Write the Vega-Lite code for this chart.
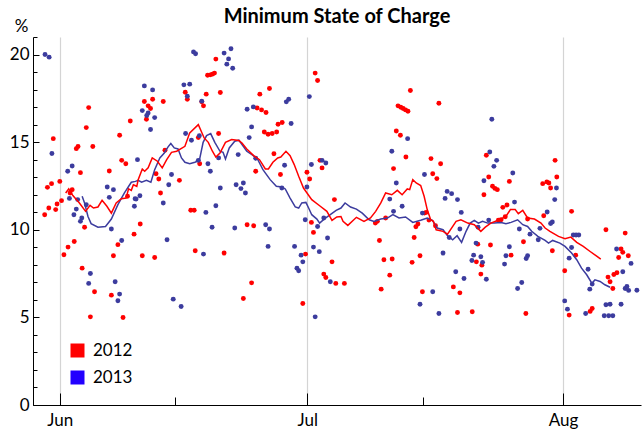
{
  "$schema": "https://vega.github.io/schema/vega-lite/v6.json",
  "width": 608,
  "height": 368,
  "autosize": {"type": "none"},
  "padding": {"left": 33, "top": 37, "right": 3, "bottom": 26},
  "background": "white",
  "title": {"text": "Minimum State of Charge", "font": "Lato", "fontSize": 20, "fontWeight": "bold", "color": "black", "anchor": "middle", "offset": 10, "dy": 20},
  "config": {
    "view": {"stroke": null},
    "axis": {"labelFont": "Lato", "labelFontSize": 17, "labelColor": "black", "domainColor": "black", "tickColor": "black", "domainWidth": 1, "tickWidth": 1}
  },
  "resolve": {"axis": {"x": "independent", "y": "independent"}},
  "layer": [
    {
      "data": {
        "format": {"parse": {"t": "utc:'%m-%d %H'"}},
        "values": [
          {"t": "05-30 04", "year": "2012", "soc": 10.86},
          {"t": "05-30 16", "year": "2012", "soc": 11.24},
          {"t": "05-30 12", "year": "2012", "soc": 12.42},
          {"t": "05-31 00", "year": "2012", "soc": 12.63},
          {"t": "05-31 05", "year": "2012", "soc": 15.2},
          {"t": "05-31 12", "year": "2012", "soc": 11.15},
          {"t": "05-31 16", "year": "2012", "soc": 11.47},
          {"t": "06-01 00", "year": "2012", "soc": 12.76},
          {"t": "06-01 05", "year": "2012", "soc": 11.66},
          {"t": "06-01 12", "year": "2012", "soc": 8.57},
          {"t": "06-02 00", "year": "2012", "soc": 9.01},
          {"t": "06-02 12", "year": "2012", "soc": 12.29},
          {"t": "06-02 06", "year": "2012", "soc": 12.1},
          {"t": "06-02 18", "year": "2012", "soc": 9.33},
          {"t": "06-03 00", "year": "2012", "soc": 14.63},
          {"t": "06-03 05", "year": "2012", "soc": 14.75},
          {"t": "06-03 12", "year": "2012", "soc": 13.26},
          {"t": "06-03 17", "year": "2012", "soc": 7.81},
          {"t": "06-04 00", "year": "2012", "soc": 10.14},
          {"t": "06-04 05", "year": "2012", "soc": 15.83},
          {"t": "06-04 12", "year": "2012", "soc": 16.97},
          {"t": "06-04 17", "year": "2012", "soc": 5.03},
          {"t": "06-05 00", "year": "2012", "soc": 14.75},
          {"t": "06-05 05", "year": "2012", "soc": 6.46},
          {"t": "06-07 00", "year": "2012", "soc": 13.35},
          {"t": "06-07 06", "year": "2012", "soc": 6.27},
          {"t": "06-07 12", "year": "2012", "soc": 8.52},
          {"t": "06-08 01", "year": "2012", "soc": 9.15},
          {"t": "06-08 06", "year": "2012", "soc": 15.39},
          {"t": "06-08 12", "year": "2012", "soc": 13.96},
          {"t": "06-09 00", "year": "2012", "soc": 13.77},
          {"t": "06-09 13", "year": "2012", "soc": 16.21},
          {"t": "06-08 16", "year": "2012", "soc": 4.99},
          {"t": "06-09 05", "year": "2012", "soc": 11.91},
          {"t": "06-10 00", "year": "2012", "soc": 9.75},
          {"t": "06-19 22", "year": "2012", "soc": 19.74},
          {"t": "06-18 22", "year": "2012", "soc": 18.82},
          {"t": "06-19 06", "year": "2012", "soc": 18.84},
          {"t": "06-19 12", "year": "2012", "soc": 18.88},
          {"t": "06-19 18", "year": "2012", "soc": 18.94},
          {"t": "06-16 05", "year": "2012", "soc": 17.85},
          {"t": "06-16 11", "year": "2012", "soc": 17.45},
          {"t": "06-18 18", "year": "2012", "soc": 17.74},
          {"t": "06-20 11", "year": "2012", "soc": 17.83},
          {"t": "06-18 05", "year": "2012", "soc": 17.3},
          {"t": "06-18 10", "year": "2012", "soc": 17.07},
          {"t": "06-11 06", "year": "2012", "soc": 17.32},
          {"t": "06-12 06", "year": "2012", "soc": 17.45},
          {"t": "06-13 13", "year": "2012", "soc": 17.32},
          {"t": "06-11 17", "year": "2012", "soc": 17.07},
          {"t": "06-12 00", "year": "2012", "soc": 16.92},
          {"t": "06-11 12", "year": "2012", "soc": 16.31},
          {"t": "06-17 19", "year": "2012", "soc": 15.26},
          {"t": "06-20 06", "year": "2012", "soc": 15.49},
          {"t": "06-13 18", "year": "2012", "soc": 14.54},
          {"t": "06-17 23", "year": "2012", "soc": 13.77},
          {"t": "06-12 16", "year": "2012", "soc": 13.2},
          {"t": "06-13 00", "year": "2012", "soc": 12.9},
          {"t": "06-15 12", "year": "2012", "soc": 12.82},
          {"t": "06-13 05", "year": "2012", "soc": 12.1},
          {"t": "06-16 21", "year": "2012", "soc": 11.11},
          {"t": "06-17 07", "year": "2012", "soc": 11.11},
          {"t": "06-10 18", "year": "2012", "soc": 10.33},
          {"t": "06-11 00", "year": "2012", "soc": 8.52},
          {"t": "06-12 12", "year": "2012", "soc": 8.42},
          {"t": "06-17 10", "year": "2012", "soc": 8.8},
          {"t": "06-20 22", "year": "2012", "soc": 8.67},
          {"t": "07-01 23", "year": "2012", "soc": 18.94},
          {"t": "07-02 06", "year": "2012", "soc": 18.52},
          {"t": "06-26 10", "year": "2012", "soc": 18.06},
          {"t": "06-25 06", "year": "2012", "soc": 17.74},
          {"t": "06-24 22", "year": "2012", "soc": 16.95},
          {"t": "06-25 11", "year": "2012", "soc": 16.84},
          {"t": "06-26 00", "year": "2012", "soc": 16.69},
          {"t": "06-27 11", "year": "2012", "soc": 16.02},
          {"t": "06-27 23", "year": "2012", "soc": 16.12},
          {"t": "06-25 19", "year": "2012", "soc": 15.58},
          {"t": "06-26 06", "year": "2012", "soc": 15.45},
          {"t": "06-26 18", "year": "2012", "soc": 15.49},
          {"t": "06-27 07", "year": "2012", "soc": 15.58},
          {"t": "06-26 23", "year": "2012", "soc": 14.34},
          {"t": "06-24 18", "year": "2012", "soc": 13.34},
          {"t": "06-27 18", "year": "2012", "soc": 13.15},
          {"t": "06-30 23", "year": "2012", "soc": 13.28},
          {"t": "07-01 07", "year": "2012", "soc": 12.9},
          {"t": "07-02 13", "year": "2012", "soc": 13.96},
          {"t": "07-02 19", "year": "2012", "soc": 13.53},
          {"t": "07-04 07", "year": "2012", "soc": 11.72},
          {"t": "07-01 12", "year": "2012", "soc": 10.42},
          {"t": "07-01 18", "year": "2012", "soc": 9.85},
          {"t": "06-23 17", "year": "2012", "soc": 10.29},
          {"t": "06-24 12", "year": "2012", "soc": 10.23},
          {"t": "06-30 19", "year": "2012", "soc": 8.61},
          {"t": "07-04 00", "year": "2012", "soc": 8.17},
          {"t": "07-03 00", "year": "2012", "soc": 7.47},
          {"t": "07-03 06", "year": "2012", "soc": 7.28},
          {"t": "07-04 11", "year": "2012", "soc": 6.94},
          {"t": "06-24 06", "year": "2012", "soc": 6.97},
          {"t": "06-23 06", "year": "2012", "soc": 6.08},
          {"t": "06-30 11", "year": "2012", "soc": 5.79},
          {"t": "07-13 12", "year": "2012", "soc": 17.95},
          {"t": "07-16 23", "year": "2012", "soc": 17.22},
          {"t": "07-12 00", "year": "2012", "soc": 17.07},
          {"t": "07-12 08", "year": "2012", "soc": 16.99},
          {"t": "07-12 15", "year": "2012", "soc": 16.92},
          {"t": "07-12 22", "year": "2012", "soc": 16.84},
          {"t": "07-13 05", "year": "2012", "soc": 16.76},
          {"t": "07-11 19", "year": "2012", "soc": 15.64},
          {"t": "07-12 07", "year": "2012", "soc": 15.39},
          {"t": "07-12 23", "year": "2012", "soc": 14.15},
          {"t": "07-16 00", "year": "2012", "soc": 14.06},
          {"t": "07-17 04", "year": "2012", "soc": 13.77},
          {"t": "07-16 05", "year": "2012", "soc": 13.2},
          {"t": "07-16 17", "year": "2012", "soc": 12.92},
          {"t": "07-11 11", "year": "2012", "soc": 13.49},
          {"t": "07-15 10", "year": "2012", "soc": 10.99},
          {"t": "07-15 05", "year": "2012", "soc": 10.95},
          {"t": "07-15 18", "year": "2012", "soc": 10.55},
          {"t": "07-16 13", "year": "2012", "soc": 10.23},
          {"t": "07-14 10", "year": "2012", "soc": 10.33},
          {"t": "07-14 04", "year": "2012", "soc": 10.17},
          {"t": "07-13 23", "year": "2012", "soc": 9.56},
          {"t": "07-10 12", "year": "2012", "soc": 10.67},
          {"t": "07-09 12", "year": "2012", "soc": 10.48},
          {"t": "07-09 06", "year": "2012", "soc": 10.38},
          {"t": "07-09 18", "year": "2012", "soc": 9.39},
          {"t": "07-10 07", "year": "2012", "soc": 8.29},
          {"t": "07-11 07", "year": "2012", "soc": 8.33},
          {"t": "07-11 00", "year": "2012", "soc": 7.41},
          {"t": "07-09 23", "year": "2012", "soc": 6.61},
          {"t": "07-13 17", "year": "2012", "soc": 8.14},
          {"t": "07-14 16", "year": "2012", "soc": 8.52},
          {"t": "07-14 23", "year": "2012", "soc": 6.46},
          {"t": "07-05 12", "year": "2012", "soc": 6.94},
          {"t": "07-22 17", "year": "2012", "soc": 14.25},
          {"t": "07-23 00", "year": "2012", "soc": 13.01},
          {"t": "07-23 11", "year": "2012", "soc": 12.48},
          {"t": "07-23 18", "year": "2012", "soc": 12.36},
          {"t": "07-24 01", "year": "2012", "soc": 12.29},
          {"t": "07-25 12", "year": "2012", "soc": 12.76},
          {"t": "07-22 10", "year": "2012", "soc": 12.0},
          {"t": "07-29 13", "year": "2012", "soc": 12.63},
          {"t": "07-24 17", "year": "2012", "soc": 11.28},
          {"t": "07-25 05", "year": "2012", "soc": 11.41},
          {"t": "07-24 04", "year": "2012", "soc": 10.54},
          {"t": "07-24 12", "year": "2012", "soc": 10.57},
          {"t": "07-25 00", "year": "2012", "soc": 10.74},
          {"t": "07-27 17", "year": "2012", "soc": 10.61},
          {"t": "07-29 16", "year": "2012", "soc": 10.8},
          {"t": "07-21 16", "year": "2012", "soc": 9.18},
          {"t": "07-23 05", "year": "2012", "soc": 9.13},
          {"t": "07-27 05", "year": "2012", "soc": 9.32},
          {"t": "07-21 12", "year": "2012", "soc": 8.17},
          {"t": "07-22 04", "year": "2012", "soc": 7.98},
          {"t": "07-25 17", "year": "2012", "soc": 8.55},
          {"t": "07-22 01", "year": "2012", "soc": 7.47},
          {"t": "07-18 17", "year": "2012", "soc": 6.74},
          {"t": "07-19 12", "year": "2012", "soc": 6.4},
          {"t": "07-19 05", "year": "2012", "soc": 5.28},
          {"t": "07-21 00", "year": "2012", "soc": 5.32},
          {"t": "07-27 12", "year": "2012", "soc": 5.22},
          {"t": "07-31 01", "year": "2012", "soc": 13.96},
          {"t": "07-31 06", "year": "2012", "soc": 13.01},
          {"t": "07-30 01", "year": "2012", "soc": 12.73},
          {"t": "07-30 07", "year": "2012", "soc": 12.67},
          {"t": "07-30 12", "year": "2012", "soc": 12.38},
          {"t": "08-02 01", "year": "2012", "soc": 11.05},
          {"t": "07-30 17", "year": "2012", "soc": 8.8},
          {"t": "08-02 13", "year": "2012", "soc": 8.55},
          {"t": "08-01 05", "year": "2012", "soc": 7.66},
          {"t": "08-01 18", "year": "2012", "soc": 5.13},
          {"t": "08-04 07", "year": "2012", "soc": 5.34},
          {"t": "08-04 13", "year": "2012", "soc": 5.51},
          {"t": "08-06 05", "year": "2012", "soc": 10.0},
          {"t": "08-08 13", "year": "2012", "soc": 9.81},
          {"t": "08-08 01", "year": "2012", "soc": 8.9},
          {"t": "08-08 06", "year": "2012", "soc": 8.71},
          {"t": "08-07 18", "year": "2012", "soc": 8.42},
          {"t": "08-08 22", "year": "2012", "soc": 8.52},
          {"t": "08-06 11", "year": "2012", "soc": 7.3},
          {"t": "08-06 17", "year": "2012", "soc": 7.03},
          {"t": "08-07 04", "year": "2012", "soc": 7.45},
          {"t": "08-07 13", "year": "2012", "soc": 7.55},
          {"t": "08-07 01", "year": "2012", "soc": 6.65},
          {"t": "05-30 05", "year": "2013", "soc": 20.0},
          {"t": "05-30 17", "year": "2013", "soc": 19.85},
          {"t": "05-31 01", "year": "2013", "soc": 14.35},
          {"t": "06-01 23", "year": "2013", "soc": 13.34},
          {"t": "06-02 12", "year": "2013", "soc": 13.64},
          {"t": "06-02 04", "year": "2013", "soc": 11.79},
          {"t": "06-03 04", "year": "2013", "soc": 11.72},
          {"t": "06-03 00", "year": "2013", "soc": 11.18},
          {"t": "06-02 17", "year": "2013", "soc": 10.86},
          {"t": "06-03 16", "year": "2013", "soc": 10.67},
          {"t": "06-03 12", "year": "2013", "soc": 10.48},
          {"t": "06-04 05", "year": "2013", "soc": 11.43},
          {"t": "06-04 17", "year": "2013", "soc": 7.5},
          {"t": "06-04 12", "year": "2013", "soc": 6.94},
          {"t": "06-06 18", "year": "2013", "soc": 12.44},
          {"t": "06-07 12", "year": "2013", "soc": 12.29},
          {"t": "06-07 00", "year": "2013", "soc": 11.85},
          {"t": "06-07 06", "year": "2013", "soc": 10.04},
          {"t": "06-08 12", "year": "2013", "soc": 9.39},
          {"t": "06-07 17", "year": "2013", "soc": 7.03},
          {"t": "06-08 06", "year": "2013", "soc": 6.33},
          {"t": "06-08 01", "year": "2013", "soc": 5.95},
          {"t": "06-10 01", "year": "2013", "soc": 11.34},
          {"t": "06-10 03", "year": "2013", "soc": 11.77},
          {"t": "06-10 10", "year": "2013", "soc": 14.0},
          {"t": "06-17 05", "year": "2013", "soc": 20.15},
          {"t": "06-17 11", "year": "2013", "soc": 20.04},
          {"t": "06-20 22", "year": "2013", "soc": 20.08},
          {"t": "06-21 18", "year": "2013", "soc": 20.33},
          {"t": "06-21 11", "year": "2013", "soc": 19.75},
          {"t": "06-21 06", "year": "2013", "soc": 19.45},
          {"t": "06-21 23", "year": "2013", "soc": 19.22},
          {"t": "06-11 06", "year": "2013", "soc": 18.21},
          {"t": "06-12 06", "year": "2013", "soc": 17.98},
          {"t": "06-16 01", "year": "2013", "soc": 18.27},
          {"t": "06-16 18", "year": "2013", "soc": 18.31},
          {"t": "06-16 11", "year": "2013", "soc": 17.62},
          {"t": "06-11 00", "year": "2013", "soc": 16.8},
          {"t": "06-11 17", "year": "2013", "soc": 16.67},
          {"t": "06-11 13", "year": "2013", "soc": 16.52},
          {"t": "06-12 12", "year": "2013", "soc": 16.4},
          {"t": "06-12 00", "year": "2013", "soc": 15.72},
          {"t": "06-18 05", "year": "2013", "soc": 17.34},
          {"t": "06-16 06", "year": "2013", "soc": 15.49},
          {"t": "06-16 23", "year": "2013", "soc": 15.11},
          {"t": "06-17 22", "year": "2013", "soc": 15.37},
          {"t": "06-17 19", "year": "2013", "soc": 13.96},
          {"t": "06-18 23", "year": "2013", "soc": 13.77},
          {"t": "06-19 06", "year": "2013", "soc": 13.34},
          {"t": "06-14 13", "year": "2013", "soc": 13.15},
          {"t": "06-14 05", "year": "2013", "soc": 12.57},
          {"t": "06-13 13", "year": "2013", "soc": 11.53},
          {"t": "06-10 17", "year": "2013", "soc": 11.94},
          {"t": "06-10 06", "year": "2013", "soc": 11.75},
          {"t": "06-20 11", "year": "2013", "soc": 12.38},
          {"t": "06-19 22", "year": "2013", "soc": 11.37},
          {"t": "06-18 17", "year": "2013", "soc": 10.99},
          {"t": "06-22 09", "year": "2013", "soc": 12.57},
          {"t": "06-22 15", "year": "2013", "soc": 14.29},
          {"t": "06-19 11", "year": "2013", "soc": 10.14},
          {"t": "06-22 05", "year": "2013", "soc": 10.1},
          {"t": "06-14 00", "year": "2013", "soc": 9.43},
          {"t": "06-18 10", "year": "2013", "soc": 8.61},
          {"t": "06-14 18", "year": "2013", "soc": 6.04},
          {"t": "06-15 17", "year": "2013", "soc": 5.62},
          {"t": "06-20 06", "year": "2013", "soc": 14.1},
          {"t": "07-01 06", "year": "2013", "soc": 17.6},
          {"t": "06-28 11", "year": "2013", "soc": 17.3},
          {"t": "06-28 18", "year": "2013", "soc": 17.45},
          {"t": "06-23 17", "year": "2013", "soc": 16.88},
          {"t": "06-24 11", "year": "2013", "soc": 17.01},
          {"t": "06-24 06", "year": "2013", "soc": 15.87},
          {"t": "06-23 23", "year": "2013", "soc": 15.26},
          {"t": "06-29 01", "year": "2013", "soc": 16.06},
          {"t": "06-24 18", "year": "2013", "soc": 14.08},
          {"t": "06-28 06", "year": "2013", "soc": 13.68},
          {"t": "07-01 12", "year": "2013", "soc": 13.72},
          {"t": "07-02 19", "year": "2013", "soc": 13.96},
          {"t": "07-03 06", "year": "2013", "soc": 13.81},
          {"t": "06-23 06", "year": "2013", "soc": 12.67},
          {"t": "06-22 23", "year": "2013", "soc": 12.35},
          {"t": "06-23 12", "year": "2013", "soc": 12.1},
          {"t": "06-27 22", "year": "2013", "soc": 12.38},
          {"t": "06-30 23", "year": "2013", "soc": 12.44},
          {"t": "06-30 18", "year": "2013", "soc": 10.57},
          {"t": "07-02 06", "year": "2013", "soc": 10.19},
          {"t": "07-03 00", "year": "2013", "soc": 10.67},
          {"t": "07-03 11", "year": "2013", "soc": 9.53},
          {"t": "06-25 23", "year": "2013", "soc": 10.29},
          {"t": "06-26 10", "year": "2013", "soc": 10.04},
          {"t": "06-26 06", "year": "2013", "soc": 9.05},
          {"t": "06-29 11", "year": "2013", "soc": 9.05},
          {"t": "06-30 06", "year": "2013", "soc": 8.55},
          {"t": "06-30 11", "year": "2013", "soc": 8.17},
          {"t": "07-01 18", "year": "2013", "soc": 9.01},
          {"t": "07-02 11", "year": "2013", "soc": 8.75},
          {"t": "06-29 18", "year": "2013", "soc": 7.81},
          {"t": "06-29 23", "year": "2013", "soc": 7.66},
          {"t": "07-03 19", "year": "2013", "soc": 7.03},
          {"t": "07-01 23", "year": "2013", "soc": 5.03},
          {"t": "07-13 04", "year": "2013", "soc": 15.2},
          {"t": "07-11 06", "year": "2013", "soc": 14.48},
          {"t": "07-11 19", "year": "2013", "soc": 12.67},
          {"t": "07-11 00", "year": "2013", "soc": 11.75},
          {"t": "07-15 05", "year": "2013", "soc": 13.15},
          {"t": "07-11 11", "year": "2013", "soc": 11.05},
          {"t": "07-12 12", "year": "2013", "soc": 11.34},
          {"t": "07-14 23", "year": "2013", "soc": 10.95},
          {"t": "07-17 11", "year": "2013", "soc": 8.67},
          {"t": "07-16 05", "year": "2013", "soc": 6.46},
          {"t": "07-14 16", "year": "2013", "soc": 5.75},
          {"t": "07-16 23", "year": "2013", "soc": 5.22},
          {"t": "07-23 09", "year": "2013", "soc": 16.31},
          {"t": "07-23 03", "year": "2013", "soc": 14.44},
          {"t": "07-23 23", "year": "2013", "soc": 13.96},
          {"t": "07-23 15", "year": "2013", "soc": 13.62},
          {"t": "07-22 10", "year": "2013", "soc": 12.8},
          {"t": "07-25 22", "year": "2013", "soc": 13.24},
          {"t": "07-17 23", "year": "2013", "soc": 12.19},
          {"t": "07-18 12", "year": "2013", "soc": 12.06},
          {"t": "07-17 17", "year": "2013", "soc": 11.79},
          {"t": "07-19 05", "year": "2013", "soc": 11.72},
          {"t": "07-19 16", "year": "2013", "soc": 10.99},
          {"t": "07-26 03", "year": "2013", "soc": 11.58},
          {"t": "07-23 00", "year": "2013", "soc": 10.55},
          {"t": "07-21 17", "year": "2013", "soc": 10.14},
          {"t": "07-19 12", "year": "2013", "soc": 10.04},
          {"t": "07-18 05", "year": "2013", "soc": 9.56},
          {"t": "07-26 17", "year": "2013", "soc": 10.04},
          {"t": "07-28 00", "year": "2013", "soc": 9.75},
          {"t": "07-29 00", "year": "2013", "soc": 9.43},
          {"t": "07-29 05", "year": "2013", "soc": 10.08},
          {"t": "07-21 11", "year": "2013", "soc": 9.24},
          {"t": "07-25 12", "year": "2013", "soc": 9.03},
          {"t": "07-21 04", "year": "2013", "soc": 8.55},
          {"t": "07-22 01", "year": "2013", "soc": 8.46},
          {"t": "07-22 06", "year": "2013", "soc": 8.14},
          {"t": "07-20 23", "year": "2013", "soc": 8.25},
          {"t": "07-25 02", "year": "2013", "soc": 8.52},
          {"t": "07-24 22", "year": "2013", "soc": 8.04},
          {"t": "07-27 17", "year": "2013", "soc": 8.52},
          {"t": "07-27 13", "year": "2013", "soc": 8.36},
          {"t": "07-19 00", "year": "2013", "soc": 7.6},
          {"t": "07-20 00", "year": "2013", "soc": 7.22},
          {"t": "07-22 17", "year": "2013", "soc": 7.18},
          {"t": "07-27 00", "year": "2013", "soc": 6.99},
          {"t": "07-26 12", "year": "2013", "soc": 6.65},
          {"t": "07-31 05", "year": "2013", "soc": 12.38},
          {"t": "07-31 00", "year": "2013", "soc": 11.72},
          {"t": "07-30 02", "year": "2013", "soc": 11.01},
          {"t": "07-30 17", "year": "2013", "soc": 10.44},
          {"t": "07-30 12", "year": "2013", "soc": 10.36},
          {"t": "08-02 06", "year": "2013", "soc": 9.7},
          {"t": "08-02 14", "year": "2013", "soc": 9.7},
          {"t": "08-02 22", "year": "2013", "soc": 9.7},
          {"t": "08-02 01", "year": "2013", "soc": 8.99},
          {"t": "08-01 18", "year": "2013", "soc": 8.38},
          {"t": "08-04 01", "year": "2013", "soc": 7.75},
          {"t": "08-04 13", "year": "2013", "soc": 6.9},
          {"t": "08-04 06", "year": "2013", "soc": 6.61},
          {"t": "08-07 12", "year": "2013", "soc": 8.9},
          {"t": "08-08 06", "year": "2013", "soc": 7.6},
          {"t": "08-09 06", "year": "2013", "soc": 8.08},
          {"t": "08-08 13", "year": "2013", "soc": 6.65},
          {"t": "08-08 18", "year": "2013", "soc": 6.76},
          {"t": "08-08 23", "year": "2013", "soc": 6.54},
          {"t": "08-09 23", "year": "2013", "soc": 6.55},
          {"t": "08-01 05", "year": "2013", "soc": 5.94},
          {"t": "08-01 13", "year": "2013", "soc": 5.47},
          {"t": "08-03 18", "year": "2013", "soc": 5.22},
          {"t": "08-06 05", "year": "2013", "soc": 5.72},
          {"t": "08-06 17", "year": "2013", "soc": 5.75},
          {"t": "08-06 00", "year": "2013", "soc": 5.09},
          {"t": "08-06 13", "year": "2013", "soc": 5.09},
          {"t": "08-07 01", "year": "2013", "soc": 5.09},
          {"t": "08-08 01", "year": "2013", "soc": 5.75}
        ]
      },
      "mark": {"type": "circle", "size": 24, "opacity": 1},
      "encoding": {
        "x": {
          "field": "t", "type": "temporal",
          "scale": {"type": "utc", "domain": [{"year": 1900, "month": 5, "date": 28, "hours": 18, "utc": true}, {"year": 1900, "month": 8, "date": 10, "hours": 11, "utc": true}]},
          "axis": {"title": null, "orient": "bottom", "values": [{"year": 1900, "month": 6, "date": 1, "utc": true}, {"year": 1900, "month": 7, "date": 1, "utc": true}, {"year": 1900, "month": 8, "date": 1, "utc": true}], "format": "%b", "grid": true, "gridColor": "#d4d4d4", "gridWidth": 1.2, "tickSize": -12, "labelPadding": 19}
        },
        "y": {
          "field": "soc", "type": "quantitative",
          "scale": {"domain": [0, 21], "nice": false, "zero": false},
          "axis": {"title": "%", "orient": "left", "values": [0, 5, 10, 15, 20], "grid": false, "tickSize": -6, "labelPadding": 10, "titleAngle": 0, "titleX": -12, "titleY": -11, "titleAlign": "center", "titleBaseline": "middle", "titleFont": "Lato", "titleFontSize": 17, "titleFontWeight": "normal", "titleColor": "black"}
        },
        "fill": {
          "field": "year", "type": "nominal",
          "scale": {"domain": ["2013", "2012"], "range": ["#3c3c9e", "#ff0000"]},
          "legend": null
        }
      }
    },
    {
      "data": {
        "format": {"parse": {"t": "utc:'%m-%d %H'"}},
        "values": [
          {"t": "06-03 17", "year": "2013", "soc": 11.91},
          {"t": "06-04 00", "year": "2013", "soc": 11.53},
          {"t": "06-04 10", "year": "2013", "soc": 10.76},
          {"t": "06-04 19", "year": "2013", "soc": 10.35},
          {"t": "06-05 15", "year": "2013", "soc": 10.15},
          {"t": "06-06 13", "year": "2013", "soc": 10.19},
          {"t": "06-07 06", "year": "2013", "soc": 10.61},
          {"t": "06-08 01", "year": "2013", "soc": 11.43},
          {"t": "06-08 20", "year": "2013", "soc": 12.1},
          {"t": "06-09 16", "year": "2013", "soc": 12.71},
          {"t": "06-10 04", "year": "2013", "soc": 12.76},
          {"t": "06-10 12", "year": "2013", "soc": 12.82},
          {"t": "06-10 22", "year": "2013", "soc": 12.71},
          {"t": "06-11 12", "year": "2013", "soc": 12.82},
          {"t": "06-12 01", "year": "2013", "soc": 12.71},
          {"t": "06-12 12", "year": "2013", "soc": 13.43},
          {"t": "06-13 03", "year": "2013", "soc": 14.1},
          {"t": "06-13 16", "year": "2013", "soc": 14.38},
          {"t": "06-14 03", "year": "2013", "soc": 14.73},
          {"t": "06-14 11", "year": "2013", "soc": 14.92},
          {"t": "06-14 21", "year": "2013", "soc": 14.67},
          {"t": "06-15 08", "year": "2013", "soc": 14.61},
          {"t": "06-15 18", "year": "2013", "soc": 14.1},
          {"t": "06-16 04", "year": "2013", "soc": 13.85},
          {"t": "06-16 18", "year": "2013", "soc": 13.77},
          {"t": "06-17 09", "year": "2013", "soc": 13.85},
          {"t": "06-17 22", "year": "2013", "soc": 13.96},
          {"t": "06-18 09", "year": "2013", "soc": 14.99},
          {"t": "06-18 19", "year": "2013", "soc": 15.37},
          {"t": "06-19 07", "year": "2013", "soc": 15.49},
          {"t": "06-19 19", "year": "2013", "soc": 14.99},
          {"t": "06-20 10", "year": "2013", "soc": 14.48},
          {"t": "06-20 19", "year": "2013", "soc": 14.42},
          {"t": "06-21 02", "year": "2013", "soc": 14.04},
          {"t": "06-21 13", "year": "2013", "soc": 14.67},
          {"t": "06-22 05", "year": "2013", "soc": 15.05},
          {"t": "06-22 17", "year": "2013", "soc": 15.11},
          {"t": "06-22 23", "year": "2013", "soc": 14.95},
          {"t": "06-23 16", "year": "2013", "soc": 14.48},
          {"t": "06-24 07", "year": "2013", "soc": 14.29},
          {"t": "06-24 23", "year": "2013", "soc": 14.04},
          {"t": "06-25 15", "year": "2013", "soc": 13.43},
          {"t": "06-26 12", "year": "2013", "soc": 12.86},
          {"t": "06-27 06", "year": "2013", "soc": 12.48},
          {"t": "06-27 22", "year": "2013", "soc": 12.44},
          {"t": "06-28 08", "year": "2013", "soc": 12.33},
          {"t": "06-28 22", "year": "2013", "soc": 11.81},
          {"t": "06-29 13", "year": "2013", "soc": 11.3},
          {"t": "06-29 23", "year": "2013", "soc": 11.24},
          {"t": "06-30 08", "year": "2013", "soc": 11.53},
          {"t": "06-30 20", "year": "2013", "soc": 11.56},
          {"t": "07-01 04", "year": "2013", "soc": 11.24},
          {"t": "07-01 13", "year": "2013", "soc": 10.86},
          {"t": "07-02 04", "year": "2013", "soc": 10.61},
          {"t": "07-02 12", "year": "2013", "soc": 10.38},
          {"t": "07-03 01", "year": "2013", "soc": 10.61},
          {"t": "07-03 19", "year": "2013", "soc": 10.86},
          {"t": "07-04 12", "year": "2013", "soc": 11.11},
          {"t": "07-05 02", "year": "2013", "soc": 11.24},
          {"t": "07-05 14", "year": "2013", "soc": 11.53},
          {"t": "07-06 06", "year": "2013", "soc": 11.3},
          {"t": "07-06 23", "year": "2013", "soc": 11.18},
          {"t": "07-07 16", "year": "2013", "soc": 10.95},
          {"t": "07-08 12", "year": "2013", "soc": 10.57},
          {"t": "07-09 02", "year": "2013", "soc": 10.48},
          {"t": "07-09 22", "year": "2013", "soc": 10.61},
          {"t": "07-10 17", "year": "2013", "soc": 10.67},
          {"t": "07-11 09", "year": "2013", "soc": 10.86},
          {"t": "07-12 03", "year": "2013", "soc": 10.67},
          {"t": "07-12 22", "year": "2013", "soc": 10.73},
          {"t": "07-13 19", "year": "2013", "soc": 10.42},
          {"t": "07-14 18", "year": "2013", "soc": 10.54},
          {"t": "07-15 13", "year": "2013", "soc": 10.67},
          {"t": "07-16 04", "year": "2013", "soc": 10.54},
          {"t": "07-16 18", "year": "2013", "soc": 10.1},
          {"t": "07-17 11", "year": "2013", "soc": 10.0},
          {"t": "07-18 00", "year": "2013", "soc": 9.66},
          {"t": "07-18 15", "year": "2013", "soc": 9.43},
          {"t": "07-19 04", "year": "2013", "soc": 9.66},
          {"t": "07-19 17", "year": "2013", "soc": 9.28},
          {"t": "07-20 06", "year": "2013", "soc": 9.91},
          {"t": "07-20 18", "year": "2013", "soc": 10.38},
          {"t": "07-21 06", "year": "2013", "soc": 10.54},
          {"t": "07-21 18", "year": "2013", "soc": 10.38},
          {"t": "07-22 06", "year": "2013", "soc": 10.48},
          {"t": "07-22 21", "year": "2013", "soc": 10.38},
          {"t": "07-23 16", "year": "2013", "soc": 10.38},
          {"t": "07-24 12", "year": "2013", "soc": 10.42},
          {"t": "07-25 02", "year": "2013", "soc": 10.35},
          {"t": "07-25 17", "year": "2013", "soc": 10.42},
          {"t": "07-26 12", "year": "2013", "soc": 10.57},
          {"t": "07-27 03", "year": "2013", "soc": 10.29},
          {"t": "07-27 17", "year": "2013", "soc": 10.19},
          {"t": "07-28 05", "year": "2013", "soc": 9.91},
          {"t": "07-28 23", "year": "2013", "soc": 9.62},
          {"t": "07-29 20", "year": "2013", "soc": 9.39},
          {"t": "07-30 06", "year": "2013", "soc": 9.24},
          {"t": "07-30 18", "year": "2013", "soc": 9.39},
          {"t": "07-31 15", "year": "2013", "soc": 9.24},
          {"t": "08-01 06", "year": "2013", "soc": 9.05},
          {"t": "08-02 01", "year": "2013", "soc": 8.67},
          {"t": "08-02 16", "year": "2013", "soc": 8.29},
          {"t": "08-03 06", "year": "2013", "soc": 7.81},
          {"t": "08-03 21", "year": "2013", "soc": 7.43},
          {"t": "08-04 12", "year": "2013", "soc": 6.95},
          {"t": "08-04 21", "year": "2013", "soc": 7.14},
          {"t": "08-05 12", "year": "2013", "soc": 7.05},
          {"t": "08-06 02", "year": "2013", "soc": 6.86},
          {"t": "08-06 17", "year": "2013", "soc": 6.72},
          {"t": "06-01 17", "year": "2012", "soc": 12.1},
          {"t": "06-02 02", "year": "2012", "soc": 12.33},
          {"t": "06-02 14", "year": "2012", "soc": 11.95},
          {"t": "06-03 09", "year": "2012", "soc": 11.53},
          {"t": "06-04 03", "year": "2012", "soc": 11.05},
          {"t": "06-04 16", "year": "2012", "soc": 11.39},
          {"t": "06-05 02", "year": "2012", "soc": 11.24},
          {"t": "06-05 15", "year": "2012", "soc": 11.3},
          {"t": "06-06 03", "year": "2012", "soc": 11.68},
          {"t": "06-06 17", "year": "2012", "soc": 11.34},
          {"t": "06-07 06", "year": "2012", "soc": 10.95},
          {"t": "06-07 20", "year": "2012", "soc": 11.53},
          {"t": "06-08 11", "year": "2012", "soc": 11.77},
          {"t": "06-09 01", "year": "2012", "soc": 11.81},
          {"t": "06-09 08", "year": "2012", "soc": 12.33},
          {"t": "06-09 16", "year": "2012", "soc": 12.25},
          {"t": "06-09 22", "year": "2012", "soc": 12.57},
          {"t": "06-10 08", "year": "2012", "soc": 12.48},
          {"t": "06-10 12", "year": "2012", "soc": 12.86},
          {"t": "06-11 00", "year": "2012", "soc": 13.47},
          {"t": "06-11 07", "year": "2012", "soc": 13.34},
          {"t": "06-11 17", "year": "2012", "soc": 13.53},
          {"t": "06-12 05", "year": "2012", "soc": 14.1},
          {"t": "06-12 20", "year": "2012", "soc": 13.91},
          {"t": "06-13 10", "year": "2012", "soc": 13.53},
          {"t": "06-13 23", "year": "2012", "soc": 14.0},
          {"t": "06-14 13", "year": "2012", "soc": 14.42},
          {"t": "06-15 04", "year": "2012", "soc": 14.48},
          {"t": "06-16 04", "year": "2012", "soc": 14.76},
          {"t": "06-16 18", "year": "2012", "soc": 15.53},
          {"t": "06-17 19", "year": "2012", "soc": 16.0},
          {"t": "06-18 12", "year": "2012", "soc": 15.24},
          {"t": "06-19 00", "year": "2012", "soc": 14.99},
          {"t": "06-19 12", "year": "2012", "soc": 14.48},
          {"t": "06-19 22", "year": "2012", "soc": 14.15},
          {"t": "06-20 10", "year": "2012", "soc": 14.38},
          {"t": "06-21 02", "year": "2012", "soc": 14.99},
          {"t": "06-21 20", "year": "2012", "soc": 15.15},
          {"t": "06-22 17", "year": "2012", "soc": 15.09},
          {"t": "06-23 02", "year": "2012", "soc": 14.95},
          {"t": "06-23 16", "year": "2012", "soc": 14.61},
          {"t": "06-24 12", "year": "2012", "soc": 14.23},
          {"t": "06-25 05", "year": "2012", "soc": 14.0},
          {"t": "06-25 22", "year": "2012", "soc": 13.47},
          {"t": "06-26 07", "year": "2012", "soc": 13.47},
          {"t": "06-26 20", "year": "2012", "soc": 13.85},
          {"t": "06-27 10", "year": "2012", "soc": 14.1},
          {"t": "06-27 19", "year": "2012", "soc": 14.15},
          {"t": "06-28 10", "year": "2012", "soc": 14.48},
          {"t": "06-28 22", "year": "2012", "soc": 14.23},
          {"t": "06-29 10", "year": "2012", "soc": 13.72},
          {"t": "06-29 23", "year": "2012", "soc": 13.05},
          {"t": "06-30 13", "year": "2012", "soc": 12.38},
          {"t": "07-01 13", "year": "2012", "soc": 11.72},
          {"t": "07-02 12", "year": "2012", "soc": 11.37},
          {"t": "07-03 09", "year": "2012", "soc": 11.05},
          {"t": "07-04 00", "year": "2012", "soc": 10.54},
          {"t": "07-04 14", "year": "2012", "soc": 10.73},
          {"t": "07-05 02", "year": "2012", "soc": 10.76},
          {"t": "07-05 08", "year": "2012", "soc": 10.48},
          {"t": "07-05 22", "year": "2012", "soc": 10.25},
          {"t": "07-06 23", "year": "2012", "soc": 10.71},
          {"t": "07-07 21", "year": "2012", "soc": 10.48},
          {"t": "07-08 16", "year": "2012", "soc": 10.67},
          {"t": "07-09 07", "year": "2012", "soc": 11.05},
          {"t": "07-09 22", "year": "2012", "soc": 11.53},
          {"t": "07-10 12", "year": "2012", "soc": 12.1},
          {"t": "07-11 06", "year": "2012", "soc": 12.0},
          {"t": "07-11 22", "year": "2012", "soc": 12.25},
          {"t": "07-12 12", "year": "2012", "soc": 12.0},
          {"t": "07-13 03", "year": "2012", "soc": 12.33},
          {"t": "07-13 10", "year": "2012", "soc": 12.29},
          {"t": "07-13 19", "year": "2012", "soc": 12.86},
          {"t": "07-14 05", "year": "2012", "soc": 12.67},
          {"t": "07-14 18", "year": "2012", "soc": 12.52},
          {"t": "07-15 04", "year": "2012", "soc": 11.91},
          {"t": "07-15 13", "year": "2012", "soc": 11.15},
          {"t": "07-15 23", "year": "2012", "soc": 10.57},
          {"t": "07-16 07", "year": "2012", "soc": 10.48},
          {"t": "07-16 15", "year": "2012", "soc": 10.0},
          {"t": "07-17 11", "year": "2012", "soc": 9.91},
          {"t": "07-18 00", "year": "2012", "soc": 9.75},
          {"t": "07-19 01", "year": "2012", "soc": 10.48},
          {"t": "07-19 15", "year": "2012", "soc": 10.57},
          {"t": "07-20 11", "year": "2012", "soc": 10.38},
          {"t": "07-21 06", "year": "2012", "soc": 10.29},
          {"t": "07-22 01", "year": "2012", "soc": 9.91},
          {"t": "07-22 14", "year": "2012", "soc": 10.15},
          {"t": "07-23 06", "year": "2012", "soc": 10.38},
          {"t": "07-24 07", "year": "2012", "soc": 10.57},
          {"t": "07-25 02", "year": "2012", "soc": 10.76},
          {"t": "07-25 15", "year": "2012", "soc": 11.15},
          {"t": "07-26 05", "year": "2012", "soc": 11.15},
          {"t": "07-26 14", "year": "2012", "soc": 10.92},
          {"t": "07-27 03", "year": "2012", "soc": 11.11},
          {"t": "07-27 17", "year": "2012", "soc": 10.67},
          {"t": "07-28 13", "year": "2012", "soc": 10.61},
          {"t": "07-29 08", "year": "2012", "soc": 10.38},
          {"t": "07-29 20", "year": "2012", "soc": 10.1},
          {"t": "07-30 10", "year": "2012", "soc": 9.91},
          {"t": "07-31 11", "year": "2012", "soc": 9.62},
          {"t": "08-01 06", "year": "2012", "soc": 9.49},
          {"t": "08-01 23", "year": "2012", "soc": 9.58},
          {"t": "08-02 16", "year": "2012", "soc": 9.28},
          {"t": "08-03 11", "year": "2012", "soc": 9.05},
          {"t": "08-04 07", "year": "2012", "soc": 8.76},
          {"t": "08-05 00", "year": "2012", "soc": 8.52},
          {"t": "08-05 14", "year": "2012", "soc": 8.33}
        ]
      },
      "mark": {"type": "line", "strokeWidth": 1.5},
      "encoding": {
        "x": {
          "field": "t", "type": "temporal",
          "axis": {"title": null, "orient": "bottom", "values": [{"year": 1900, "month": 6, "date": 15, "utc": true}, {"year": 1900, "month": 7, "date": 15, "utc": true}], "labels": false, "grid": false, "domain": false, "tickSize": -8}
        },
        "y": {
          "field": "soc", "type": "quantitative",
          "axis": {"title": null, "orient": "left", "values": [0, 1, 2, 3, 4, 5, 6, 7, 8, 9, 10, 11, 12, 13, 14, 15, 16, 17, 18, 19, 20, 21], "labels": false, "grid": false, "domain": false, "tickSize": -4}
        },
        "stroke": {
          "field": "year", "type": "nominal",
          "scale": {"domain": ["2013", "2012"], "range": ["#3c3c9e", "#ff0000"]},
          "legend": null
        }
      }
    },
    {
      "data": {"values": [{"year": "2012"}, {"year": "2013"}]},
      "mark": {"type": "square", "size": 0, "opacity": 1, "filled": true},
      "encoding": {
        "color": {
          "field": "year", "type": "nominal",
          "scale": {"domain": ["2012", "2013"], "range": ["#ff0000", "#2200ff"]},
          "legend": {"title": null, "orient": "none", "legendX": 36, "legendY": 305, "symbolType": "square", "symbolSize": 196, "symbolStrokeWidth": 0, "symbolOpacity": 1, "labelFont": "Lato", "labelFontSize": 17, "labelColor": "black", "labelOffset": 7, "rowPadding": 9}
        }
      }
    }
  ]
}
